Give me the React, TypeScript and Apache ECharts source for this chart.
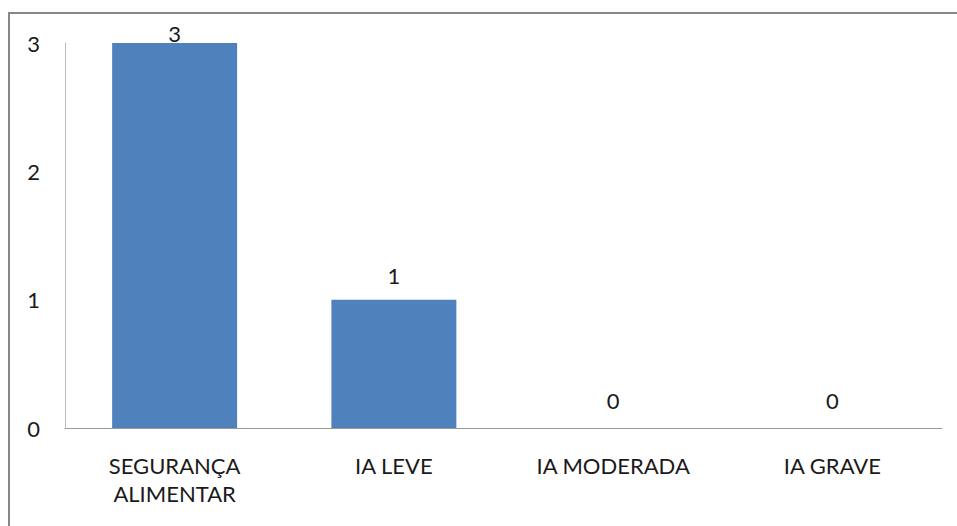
import React, { useEffect, useRef } from "react";
import * as echarts from "echarts";

const categories = ["SEGURANÇA\nALIMENTAR", "IA LEVE", "IA MODERADA", "IA GRAVE"];
const values = [3, 1, 0, 0];
const labelDistances = [-1, 13, 17, 17];

export default function App() {
  const ref = useRef<HTMLDivElement>(null);
  useEffect(() => {
    const chart = echarts.init(ref.current!, null, { renderer: "svg" });
    const font = "Lato, 'Open Sans', sans-serif";
    const fs = 22;
    chart.setOption({
      animation: false,
      backgroundColor: "#ffffff",
      graphic: [
        {
          type: "rect",
          shape: { x: 9, y: 13, width: 1000, height: 600 },
          style: { fill: "none", stroke: "#888888", lineWidth: 2 },
          silent: true,
        },
      ],
      grid: { left: 65, right: 15, top: 43, bottom: 98 },
      xAxis: {
        type: "category",
        data: categories,
        axisLine: { show: true, lineStyle: { color: "#999999", width: 1 } },
        axisTick: { show: false },
        axisLabel: {
          color: "#1a1a1a",
          fontFamily: font,
          fontSize: fs,
          lineHeight: 28,
          margin: 23,
          interval: 0,
        },
      },
      yAxis: {
        type: "value",
        min: 0,
        max: 3,
        interval: 1,
        splitLine: { show: false },
        axisLine: { show: true, lineStyle: { color: "#bbbbbb", width: 1 } },
        axisTick: { show: false },
        axisLabel: {
          color: "#1a1a1a",
          fontFamily: font,
          fontSize: fs,
          margin: 25,
        },
      },
      series: [
        {
          type: "bar",
          barWidth: "57%",
          itemStyle: { color: "#4F81BD" },
          data: values.map((v, i) => ({
            value: v,
            label: {
              show: true,
              position: "top",
              distance: labelDistances[i],
              color: "#1a1a1a",
              fontFamily: font,
              fontSize: fs,
            },
          })),
        },
      ],
    });
    return () => chart.dispose();
  }, []);
  return (
    <div
      ref={ref}
      style={{ position: "fixed", left: 0, top: 0, width: 957, height: 526 }}
    />
  );
}
